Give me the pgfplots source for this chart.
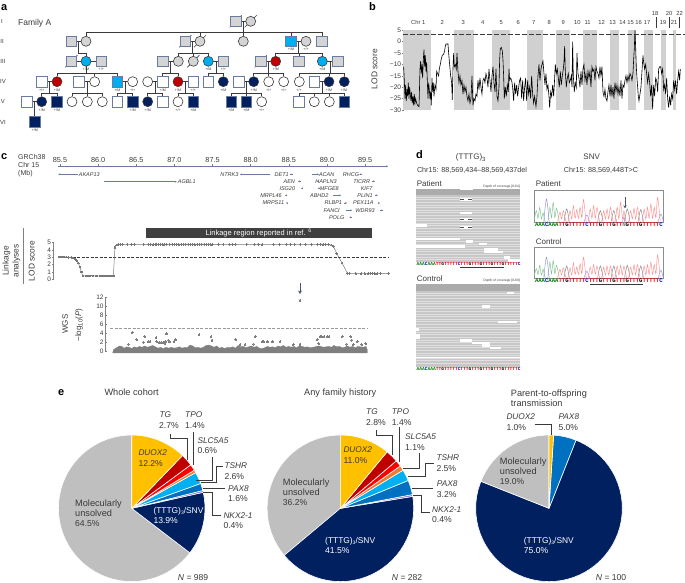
\documentclass[border=0pt]{standalone}
\usepackage{fontspec}
\setmainfont{Liberation Sans}
\newfontfamily\monof{Liberation Mono}
\usepackage{pgfplots}
\pgfplotsset{compat=1.18}
\usepgfplotslibrary{polar}
\usetikzlibrary{arrows.meta}
\definecolor{txt}{HTML}{3A3A3A}
\definecolor{navy}{HTML}{002060}
\definecolor{sky}{HTML}{00AEEF}
\definecolor{red1}{HTML}{C00000}
\definecolor{gry}{HTML}{D4D4D4}
\definecolor{sqb}{HTML}{6A7BA2}
\definecolor{band}{HTML}{D0D0D0}
\definecolor{duox}{HTML}{FFC000}
\definecolor{tg}{HTML}{C00000}
\definecolor{tpo}{HTML}{FF0000}
\definecolor{slc}{HTML}{ED7D31}
\definecolor{tshr}{HTML}{00B0F0}
\definecolor{pax}{HTML}{0070C0}
\definecolor{nkx}{HTML}{8A6FD8}
\definecolor{uns}{HTML}{BFBFBF}
\definecolor{trG}{HTML}{7FC08F}
\definecolor{trB}{HTML}{8F8FEA}
\definecolor{trR}{HTML}{F79090}
\definecolor{trK}{HTML}{808080}
\definecolor{axg}{HTML}{808080}
\definecolor{dotg}{HTML}{7F7F7F}
\definecolor{dashg}{HTML}{999999}
\definecolor{lodg}{HTML}{777777}
\definecolor{boxg}{HTML}{8C8C8C}
\newcommand\Tx[5]{\node[anchor=#3,inner sep=0pt,text=txt,text height={0.72*#4 pt},text depth=0pt,font=\fontsize{#4}{#4}\selectfont] at (axis cs:#1,#2) {#5};}
\newcommand\TxW[5]{\node[anchor=#3,inner sep=0pt,text=white,text height={0.72*#4 pt},text depth=0pt,font=\fontsize{#4}{#4}\selectfont] at (axis cs:#1,#2) {#5};}
\newcommand\Rt[4]{\node[anchor=center,inner sep=0pt,text=txt,rotate=90,font=\fontsize{#3}{#3}\selectfont] at (axis cs:#1,#2) {#4};}
\newcommand\Gn[3]{\Tx{#1}{#2}{center}{5.5}{\textit{#3}}}
\newcommand\Gt[3]{\Tx{#1}{#2}{center}{3.6}{#3}}
\newcommand\Rc[5]{\addplot[fill=#5,draw=none,forget plot] coordinates {(#1,#2)(#3,#2)(#3,#4)(#1,#4)};}
\newcommand\Ln[2][]{\addplot[forget plot,draw=txt,line width=0.6pt,#1] coordinates {#2};}
\newcommand\Sq[2]{\addplot[forget plot,only marks,mark=square*,mark size=5.2pt,mark options={fill=#1,draw=sqb,line width=0.7pt}] coordinates {#2};}
\newcommand\Ci[2]{\addplot[forget plot,only marks,mark=*,mark size=5pt,mark options={fill=#1,draw=txt,line width=0.6pt}] coordinates {#2};}
\newcommand\Wd[2]{\addplot[forget plot,data cs=polar,fill=#1,draw=white,line width=0.6pt] coordinates {#2};}
\newcommand\qA{\textcolor{green!45!black}{A}}
\newcommand\qC{\textcolor{blue!80!black}{C}}
\newcommand\qG{\textcolor{black}{G}}
\newcommand\qT{\textcolor{red!90!black}{T}}
\newcommand\qN{\textcolor{gray}{N}}
\newcommand\seqC{\qA\qA\qA\qC\qA\qA\qA\qT\qT\qG\qT\qT\qT\qT\qT\qC\qT\qT\qT\qG\qT\qT\qT\qG\qT\qT\qT\qG\qT\qT\qT\qG\qT\qT\qT\qT\qT\qC}
\newcommand\seqP{\qA\qA\qA\qC\qA\qA\qA\qT\qT\qG\qT\qT\qT\qT\qT\qC\qT\qT\qT\qG\qT\qT\qT\qG\qT\qT\qN\qG\qT\qT\qT\qG\qT\qT\qT\qT\qT\qC}
\newcommand\subthree{\raisebox{-1pt}{\fontsize{5}{5}\selectfont 3}}
\pgfplotsset{
  pie/.style={hide axis,scale only axis,width=146.6pt,height=146.6pt,xmin=-1,xmax=1,ymin=-1,ymax=1,clip=false},
  chrom/.style={scale only axis,width=129.3pt,xmin=-0.7,xmax=37.7,ymin=0,ymax=95,xtick=\empty,ytick=\empty,clip=true,axis line style={draw=boxg,line width=0.7pt}}
}
\begin{document}
\begin{tikzpicture}[x=1pt,y=1pt]
\path[use as bounding box] (0,0) rectangle (685,583);

% ---------- b
\begin{axis}[at={(403.3pt,473pt)},anchor=south west,scale only axis,width=277pt,height=79.7pt,
  xmin=190,xmax=1021,ymin=-30,ymax=5,clip=false,axis x line=none,axis y line=left,
  y axis line style={draw=none,-},ytick={-30,-25,-20,-15,-10,-5,0,5},
  yticklabels={−30,−25,−20,−15,−10,−5,0,5},
  tick style={draw=axg,line width=0.5pt},major tick length=2pt,
  yticklabel style={font=\fontsize{6.6}{6.6}\selectfont,text=txt,inner sep=1pt}]
\Rc{190}{-30}{272}{5}{band}\Rc{343}{-30}{401}{5}{band}\Rc{457}{-30}{511}{5}{band}
\Rc{560}{-30}{608}{5}{band}\Rc{649}{-30}{691}{5}{band}\Rc{730}{-30}{771}{5}{band}
\Rc{810}{-30}{836}{5}{band}\Rc{864}{-30}{887}{5}{band}\Rc{913}{-30}{938}{5}{band}
\Rc{962}{-30}{978}{5}{band}\Rc{998}{-30}{1008}{5}{band}
\addplot[draw=txt,dashed,dash pattern=on 5pt off 2pt,line width=0.7pt] coordinates {(190,3.3)(1035,3.3)};
\addplot[draw=black,line width=0.6pt] coordinates {
(191,-11)(193,-17)(195,-25)(197,-19)(199,-26)(201,-21)(203,-24)(205,-18)(207,-25)(209,-20)(211,-23)(213,-26)(215,-22)(217,-27)(219,-24)(221,-28)(223,-23)(225,-27)(227,-25)(230,-27)(233,-28)(237,-28.5)(238,-24)(240,-12)(242,-8.5)(244,-14)(246,-10)(248,-16)(250,-8)(252,-3.5)(254,-11)(256,-6)(258,-13)(260,-9)(262,-17)(264,-25)(266,-18)(268,-21)(270,-25)(272,-22)(274,-28)(276,-16)(278,-22)(280,-18)(282,-24)(285,-19)(288,-21)(290,-13)(293,-14)(296,-15)(298,-12)(301,-10)(304,-7.5)(307,-6)(311,-5.5)(314,-4)(316,-2)(318,-1)(324,-1)(326,-5)(329,-10)(332,-15)(335,-18)(337,-25.5)(339,-12)(341,-5)(343,-11)(346,-10)(349,-12)(351,-5)(354,-13)(357,-18)(360,-15)(363,-19)(366,-17)(369,-23)(372,-19)(375,-22)(378,-20)(381,-24)(384,-26)(387,-23)(390,-27)(393,-25)(396,-15)(399,-28)(402,-25)(405,-26)(408,-23)(411,-24)(414,-17)(417,-21)(420,-16)(423,-20)(426,-23)(429,-17)(432,-16)(435,-18)(438,-14)(441,-16)(444,-20)(447,-12)(450,-17)(453,-22)(456,-15)(459,-11)(462,-18)(465,-22)(468,-12)(471,-24)(474,-26)(477,-20)(479,-8)(481,-3)(484,-2.5)(487,-4)(489,-8)(491,-15)(493,-25)(496,-20)(499,-24)(502,-19)(505,-22)(507,-12)(509,-17)(512,-16)(515,-17)(518,-20)(521,-26)(524,-18)(527,-23)(530,-19)(533,-24)(536,-20)(539,-17)(542,-16)(545,-25)(548,-17)(551,-26)(554,-20)(557,-16)(560,-26)(563,-17)(566,-23)(569,-20)(572,-25)(575,-15)(578,-23)(581,-27)(584,-24)(588,-28.5)(591,-24)(594,-15)(597,-10)(600,-17)(603,-12)(606,-10)(609,-8.5)(612,-14)(615,-19)(618,-14)(621,-21)(624,-19)(627,-24)(629,-29)(632,-22)(635,-24)(638,-19)(641,-24)(643,-19)(646,-10)(649,-14)(652,-12)(655,-16)(658,-20)(661,-13)(664,-19)(667,-15)(670,-12)(672,-9)(674,-2)(676,-13)(679,-20)(682,-16)(685,-14)(688,-18)(691,-17)(694,-15)(696,-20)(698,0)(700,-15)(703,-22)(706,-18)(709,-20)(711,-5)(714,-14)(717,-16)(720,-20)(723,-13)(726,-19)(729,-12)(732,-10)(735,-17)(738,-14)(741,-19)(744,-13)(747,-16)(750,-13)(753,-20)(756,-11)(759,-13)(762,-12)(765,-17)(768,-11)(771,-13)(774,-14)(777,-16)(780,-11)(783,-15)(786,-11)(789,-22)(792,-24)(795,-21)(798,-25)(801,-26)(804,-22)(807,-19)(810,-24)(813,-19)(816,-24)(819,-20)(822,-25)(825,-18)(828,-22)(831,-19)(834,-23)(837,-20)(840,-24)(843,-17)(846,-25)(849,-19)(852,-20)(855,-17)(858,-15)(861,-18)(864,-15)(867,-17)(870,-14)(873,-15)(876,-17)(879,-14)(881,-8)(883,-3)(885,5)(887,-2)(889,-11)(891,-16)(893,-20)(895,-24)(897,-26)(900,-23)(903,-20)(906,-13)(909,-6)(911,-9)(914,-12)(917,-10)(920,-14)(923,-18)(926,-14)(929,-18)(932,-24)(935,-19)(938,-29.5)(941,-19)(944,-24)(947,-16)(950,-17)(953,-22)(956,-12)(959,-11)(962,-11)(965,-14)(968,-12)(971,-21)(974,-19)(977,-23)(980,-16)(983,-25)(986,-29)(989,-24)(992,-28)(995,-23)(998,-25)(1001,-17)(1004,-21)(1007,-17)(1010,-23)(1013,-17)(1016,-13)(1019,-17)(1021,-12)};
\end{axis}

% ---------- c top scale
\begin{axis}[at={(58pt,415.7pt)},anchor=south west,scale only axis,width=330pt,height=1pt,
  xmin=85.474,xmax=89.8,ymin=0,ymax=1,axis y line=none,axis x line*=top,
  x axis line style={draw=sqb,line width=0.6pt,-{Stealth[length=2pt,width=2pt]}},
  xtick={85.5,86,86.5,87,87.5,88,88.5,89,89.5},tick style={draw=sqb,line width=0.5pt},
  major tick length=2pt,tick align=outside,
  xticklabel style={font=\fontsize{7.3}{7.3}\selectfont,text=txt,inner sep=1pt,yshift=0.5pt},
  /pgf/number format/.cd,fixed,fixed zerofill,precision=1,assume math mode=true]
\end{axis}

% ---------- c LOD
\begin{axis}[at={(53.3pt,303.7pt)},anchor=south west,scale only axis,width=336.7pt,height=36.7pt,
  xmin=85.412,xmax=89.828,ymin=0,ymax=5,clip=false,axis x line=none,axis y line=left,
  y axis line style={draw=axg,line width=0.5pt,-},ytick={0,1,2,3,4,5},
  tick style={draw=axg,line width=0.5pt},major tick length=2pt,
  yticklabel style={font=\fontsize{6.5}{6.5}\selectfont,text=txt,inner sep=1pt},
  /pgf/number format/assume math mode=true]
\addplot[draw=txt,dash pattern=on 3pt off 1.5pt,line width=0.5pt] coordinates {(85.49,3)(89.82,3)};
\addplot[color=lodg,line width=0.5pt,mark=*,mark size=0.8pt,mark options={fill=lodg,draw=lodg,line width=0pt}] coordinates {
(85.49,3.05)(85.52,3.05)(85.55,3.05)(85.58,3.03)(85.61,3.0)(85.65,2.95)(85.68,2.88)(85.70,2.75)(85.72,2.5)(85.74,2.2)(85.76,1.7)(85.78,1.0)(85.80,0.45)(85.85,0.45)(85.89,0.45)(85.93,0.45)(85.98,0.45)(86.03,0.45)(86.06,0.45)(86.08,0.45)(86.11,0.45)(86.14,0.45)(86.17,0.45)(86.20,0.45)(86.22,4.3)(86.24,4.65)(86.265,4.75)(86.29,4.77)(86.32,4.77)(86.38,4.77)(86.44,4.77)(86.48,4.77)(86.60,4.77)(86.66,4.77)(86.69,4.77)(86.72,4.77)(86.75,4.77)(86.77,4.77)(86.79,4.77)(86.82,4.77)(86.85,4.77)(86.87,4.77)(86.90,4.77)(86.94,4.77)(86.97,4.77)(87.00,4.77)(87.03,4.77)(87.06,4.77)(87.09,4.77)(87.12,4.77)(87.15,4.77)(87.18,4.77)(87.21,4.77)(87.24,4.77)(87.27,4.77)(87.30,4.77)(87.33,4.77)(87.36,4.77)(87.39,4.77)(87.42,4.77)(87.45,4.77)(87.48,4.77)(87.50,4.77)(87.58,4.77)(87.64,4.77)(87.72,4.77)(87.76,4.77)(87.80,4.77)(87.95,4.77)(88.05,4.77)(88.10,4.77)(88.15,4.77)(88.30,4.77)(88.38,4.77)(88.47,4.77)(88.52,4.77)(88.58,4.77)(88.65,4.77)(88.72,4.77)(88.80,4.77)(88.88,4.77)(88.92,4.77)(88.95,4.77)(88.98,4.77)(89.02,4.75)(89.06,4.65)(89.085,4.5)(89.13,3.5)(89.20,2.2)(89.27,0.8)(89.30,0.8)(89.38,0.8)(89.45,0.8)(89.50,0.8)(89.54,0.8)(89.57,0.8)(89.60,0.8)(89.63,0.8)(89.66,0.8)(89.70,0.8)(89.81,0.8)};
\end{axis}

% ---------- c WGS
\begin{axis}[at={(105.7pt,231.7pt)},anchor=south west,scale only axis,width=264.3pt,height=53.6pt,
  xmin=317,xmax=1110,ymin=0,ymax=12,clip=false,axis x line=none,axis y line=left,
  y axis line style={draw=axg,line width=0.5pt,-},ytick={0,2,4,6,8,10,12},
  tick style={draw=axg,line width=0.5pt},major tick length=2pt,
  yticklabel style={font=\fontsize{6.5}{6.5}\selectfont,text=txt,inner sep=1pt},
  /pgf/number format/assume math mode=true]
\addplot[draw=dashg,dash pattern=on 3pt off 1.5pt,line width=0.7pt] coordinates {(330,5.2)(1100,5.2)};
\addplot[fill=dotg,draw=dotg,line width=0.3pt] coordinates {
(338,-0.4)(340,0.3)(345,0.6)(352,0.9)(358,1.2)(365,1.1)(372,0.7)(380,1.0)(388,0.9)(395,0.6)(402,1.0)(410,0.8)(418,1.1)(426,0.9)(434,1.2)(442,0.9)(450,1.1)(458,1.3)(466,1.0)(474,0.7)(482,0.9)(490,0.6)(498,0.9)(506,0.7)(514,0.9)(522,0.7)(530,0.8)(538,1.0)(546,0.7)(554,0.9)(562,0.8)(570,1.4)(578,1.2)(586,0.8)(594,0.9)(602,0.7)(610,0.9)(618,1.3)(626,1.4)(634,1.2)(642,0.9)(650,1.2)(658,0.7)(666,0.9)(674,0.6)(682,0.9)(690,0.8)(698,1.0)(706,0.7)(714,1.3)(722,1.0)(730,1.1)(738,0.8)(746,1.0)(754,1.2)(762,0.9)(770,1.1)(778,0.7)(786,0.6)(794,0.8)(802,1.1)(810,0.9)(818,1.0)(826,0.8)(834,1.2)(842,1.0)(850,1.3)(858,0.9)(866,1.1)(874,0.9)(882,1.1)(890,0.8)(898,1.2)(906,1.1)(914,0.9)(922,1.0)(930,0.8)(938,0.9)(946,1.0)(954,1.2)(962,1.1)(970,0.9)(978,1.0)(986,1.1)(994,0.9)(1002,1.3)(1010,1.0)(1018,1.1)(1026,0.8)(1034,0.9)(1042,1.2)(1050,0.9)(1058,1.1)(1066,0.8)(1074,1.1)(1082,1.0)(1090,0.9)(1098,1.1)(1102,0.3)(1102,-0.4)};
\addplot[color=dotg,only marks,mark=*,mark size=0.95pt,mark options={fill=dotg,draw=dotg,line width=0pt}] coordinates {
(900,11.4)(397,4.2)(385,1.6)(410,2.6)(434,3.3)(430,2)(445,2.1)(450,2.1)(468,3)(470,2.2)(478,1.9)(485,1.9)(490,2)(497,2.2)(505,2.5)(500,3.9)(495,1.8)(509,2.1)(522,2.2)(527,2.6)(597,3.7)(633,3.3)(636,2.5)(707,2.6)(766,3.3)(787,2.1)(790,2.1)(803,2.1)(817,2.1)(840,2.1)(720,1.5)(735,1.5)(760,1.6)(952,2.6)(960,3.3)(965,3.3)(972,3.3)(982,3.3)(987,3.3)(1027,3.3)(1052,3.3)(1055,2.5)(1072,2.2)(956,1.7)(1040,1.6)(1060,1.5)(1085,1.5)(1097,1.7)(900,1.6)(880,1.5)};
\end{axis}

% ---------- d chromatograms
\begin{axis}[chrom,at={(534pt,360.7pt)},anchor=south west,height=31.6pt]
\addplot[draw=trG,line width=0.45pt,smooth] coordinates {(-0.7,5)(0,35)(0.5,12)(1,45)(1.5,10)(2,28)(2.6,2)(3.4,2)(4,45)(4.5,14)(5,60)(5.5,14)(6,42)(6.8,2)};
\addplot[draw=trB,line width=0.45pt,smooth] coordinates {(2.2,2)(3,70)(3.8,2)};
\addplot[draw=trB,line width=0.45pt,smooth] coordinates {(14.2,2)(15,22)(15.8,2)};
\addplot[draw=trB,line width=0.45pt,smooth] coordinates {(25.6,2)(26,15)(26.4,2)};
\addplot[draw=trB,line width=0.45pt,smooth] coordinates {(36.2,2)(37,25)(37.7,2)};
\addplot[draw=trK,line width=0.45pt,smooth] coordinates {(8.2,2)(9,40)(9.8,2)};
\addplot[draw=trK,line width=0.45pt,smooth] coordinates {(18.2,2)(19,35)(19.8,2)};
\addplot[draw=trK,line width=0.45pt,smooth] coordinates {(22.2,2)(23,35)(23.8,2)};
\addplot[draw=trK,line width=0.45pt,smooth] coordinates {(26.2,2)(27,40)(27.8,2)};
\addplot[draw=trK,line width=0.45pt,smooth] coordinates {(30.2,2)(31,38)(31.8,2)};
\addplot[draw=trR,line width=0.45pt,smooth] coordinates {(6.3,2)(7,30)(7.5,10)(8,35)(8.8,2)(9.4,2)(10,35)(10.5,10)(11,50)(11.5,12)(12,38)(12.5,12)(13,45)(13.5,14)(14,68)(14.8,2)(15.4,2)(16,40)(16.5,12)(17,50)(17.5,12)(18,45)(18.8,2)(19.4,2)(20,35)(20.5,10)(21,40)(21.5,10)(22,45)(22.8,2)(23.4,2)(24,45)(24.5,10)(25,60)(25.6,10)(26,35)(26.6,2)(27.4,2)(28,35)(28.5,10)(29,42)(29.5,10)(30,45)(30.8,2)(31.4,2)(32,40)(32.5,10)(33,45)(33.5,12)(34,55)(34.5,12)(35,45)(35.5,14)(36,75)(36.8,2)};
\end{axis}
\begin{axis}[chrom,at={(534pt,304.7pt)},anchor=south west,height=30.7pt]
\addplot[draw=trG,line width=0.45pt,smooth] coordinates {(-0.7,5)(0,30)(0.5,12)(1,40)(1.5,10)(2,28)(2.6,2)(3.4,2)(4,50)(4.5,14)(5,55)(5.5,14)(6,40)(6.8,2)};
\addplot[draw=trB,line width=0.45pt,smooth] coordinates {(2.2,2)(3,65)(3.8,2)};
\addplot[draw=trB,line width=0.45pt,smooth] coordinates {(14.2,2)(15,22)(15.8,2)};
\addplot[draw=trB,line width=0.45pt,smooth] coordinates {(36.2,2)(37,25)(37.7,2)};
\addplot[draw=trK,line width=0.45pt,smooth] coordinates {(8.2,2)(9,38)(9.8,2)};
\addplot[draw=trK,line width=0.45pt,smooth] coordinates {(18.2,2)(19,38)(19.8,2)};
\addplot[draw=trK,line width=0.45pt,smooth] coordinates {(22.2,2)(23,38)(23.8,2)};
\addplot[draw=trK,line width=0.45pt,smooth] coordinates {(26.2,2)(27,40)(27.8,2)};
\addplot[draw=trK,line width=0.45pt,smooth] coordinates {(30.2,2)(31,38)(31.8,2)};
\addplot[draw=trR,line width=0.45pt,smooth] coordinates {(6.3,2)(7,28)(7.5,10)(8,32)(8.8,2)(9.4,2)(10,32)(10.5,10)(11,48)(11.5,12)(12,35)(12.5,12)(13,45)(13.5,14)(14,65)(14.8,2)(15.4,2)(16,35)(16.5,12)(17,42)(17.5,12)(18,38)(18.8,2)(19.4,2)(20,35)(20.5,10)(21,38)(21.5,10)(22,38)(22.8,2)(23.4,2)(24,38)(24.5,10)(25,40)(25.5,10)(26,38)(26.8,2)(27.4,2)(28,35)(28.5,10)(29,42)(29.5,10)(30,42)(30.8,2)(31.4,2)(32,38)(32.5,10)(33,42)(33.5,12)(34,50)(34.5,12)(35,42)(35.5,14)(36,72)(36.8,2)};
\end{axis}

% ---------- e pies
\begin{axis}[pie,at={(58.4pt,1.4pt)},anchor=south west]
\Wd{uns}{(-37.44,0)(-37.44,1)(-40,1)(-45,1)(-50,1)(-55,1)(-60,1)(-65,1)(-70,1)(-75,1)(-80,1)(-85,1)(-90,1)(-95,1)(-100,1)(-105,1)(-110,1)(-115,1)(-120,1)(-125,1)(-130,1)(-135,1)(-140,1)(-145,1)(-150,1)(-155,1)(-160,1)(-165,1)(-170,1)(-175,1)(-180,1)(-185,1)(-190,1)(-195,1)(-200,1)(-205,1)(-210,1)(-215,1)(-220,1)(-225,1)(-230,1)(-235,1)(-240,1)(-245,1)(-250,1)(-255,1)(-260,1)(-265,1)(-270,1)(-270,0)(-37.44,0)}
\Wd{navy}{(12.6,0)(12.6,1)(8,1)(3,1)(-2,1)(-7,1)(-12,1)(-17,1)(-22,1)(-27,1)(-32,1)(-37.44,1)(-37.44,0)(12.6,0)}
\Wd{nkx}{(14.04,0)(14.04,1)(12.6,1)(12.6,0)(14.04,0)}
\Wd{pax}{(19.8,0)(19.8,1)(17,1)(14.04,1)(14.04,0)(19.8,0)}
\Wd{tshr}{(29.16,0)(29.16,1)(25,1)(19.8,1)(19.8,0)(29.16,0)}
\Wd{slc}{(31.32,0)(31.32,1)(29.16,1)(29.16,0)(31.32,0)}
\Wd{tpo}{(36.36,0)(36.36,1)(34,1)(31.32,1)(31.32,0)(36.36,0)}
\Wd{tg}{(46.08,0)(46.08,1)(41,1)(36.36,1)(36.36,0)(46.08,0)}
\Wd{duox}{(90,0)(90,1)(85,1)(80,1)(75,1)(70,1)(65,1)(60,1)(55,1)(50,1)(46.08,1)(46.08,0)(90,0)}
\end{axis}
\begin{axis}[pie,at={(267.1pt,1.4pt)},anchor=south west]
\Wd{uns}{(-140.04,0)(-140.04,1)(-145,1)(-150,1)(-155,1)(-160,1)(-165,1)(-170,1)(-175,1)(-180,1)(-185,1)(-190,1)(-195,1)(-200,1)(-205,1)(-210,1)(-215,1)(-220,1)(-225,1)(-230,1)(-235,1)(-240,1)(-245,1)(-250,1)(-255,1)(-260,1)(-265,1)(-270,1)(-270,0)(-140.04,0)}
\Wd{navy}{(9.36,0)(9.36,1)(5,1)(0,1)(-5,1)(-10,1)(-15,1)(-20,1)(-25,1)(-30,1)(-35,1)(-40,1)(-45,1)(-50,1)(-55,1)(-60,1)(-65,1)(-70,1)(-75,1)(-80,1)(-85,1)(-90,1)(-95,1)(-100,1)(-105,1)(-110,1)(-115,1)(-120,1)(-125,1)(-130,1)(-135,1)(-140.04,1)(-140.04,0)(9.36,0)}
\Wd{nkx}{(10.8,0)(10.8,1)(9.36,1)(9.36,0)(10.8,0)}
\Wd{pax}{(22.32,0)(22.32,1)(18,1)(14,1)(10.8,1)(10.8,0)(22.32,0)}
\Wd{tshr}{(31.32,0)(31.32,1)(27,1)(22.32,1)(22.32,0)(31.32,0)}
\Wd{slc}{(35.28,0)(35.28,1)(33,1)(31.32,1)(31.32,0)(35.28,0)}
\Wd{tpo}{(40.32,0)(40.32,1)(38,1)(35.28,1)(35.28,0)(40.32,0)}
\Wd{tg}{(50.4,0)(50.4,1)(45,1)(40.32,1)(40.32,0)(50.4,0)}
\Wd{duox}{(90,0)(90,1)(85,1)(80,1)(75,1)(70,1)(65,1)(60,1)(55,1)(50.4,1)(50.4,0)(90,0)}
\end{axis}
\begin{axis}[pie,at={(475.7pt,1.4pt)},anchor=south west]
\Wd{navy}{(68.4,0)(68.4,1)(65,1)(60,1)(55,1)(50,1)(45,1)(40,1)(35,1)(30,1)(25,1)(20,1)(15,1)(10,1)(5,1)(0,1)(-5,1)(-10,1)(-15,1)(-20,1)(-25,1)(-30,1)(-35,1)(-40,1)(-45,1)(-50,1)(-55,1)(-60,1)(-65,1)(-70,1)(-75,1)(-80,1)(-85,1)(-90,1)(-95,1)(-100,1)(-105,1)(-110,1)(-115,1)(-120,1)(-125,1)(-130,1)(-135,1)(-140,1)(-145,1)(-150,1)(-155,1)(-160,1)(-165,1)(-170,1)(-175,1)(-180,1)(-185,1)(-190,1)(-195,1)(-201.6,1)(-201.6,0)(68.4,0)}
\Wd{uns}{(-201.6,0)(-201.6,1)(-205,1)(-210,1)(-215,1)(-220,1)(-225,1)(-230,1)(-235,1)(-240,1)(-245,1)(-250,1)(-255,1)(-260,1)(-265,1)(-270,1)(-270,0)(-201.6,0)}
\Wd{pax}{(86.4,0)(86.4,1)(82,1)(78,1)(73,1)(68.4,1)(68.4,0)(86.4,0)}
\Wd{duox}{(90,0)(90,1)(88,1)(86.4,1)(86.4,0)(90,0)}
\end{axis}

% ---------- pixel-coordinate layer
\begin{axis}[at={(0pt,0pt)},anchor=south west,scale only axis,width=685pt,height=583pt,
  xmin=0,xmax=685,ymin=0,ymax=583,y dir=reverse,hide axis,clip=false,unbounded coords=jump]
% panel letters
\Tx{1}{7}{west}{11}{\textbf{\textcolor{black}{a}}}
\Tx{369}{7}{west}{11}{\textbf{\textcolor{black}{b}}}
\Tx{1}{156}{west}{11}{\textbf{\textcolor{black}{c}}}
\Tx{416}{155}{west}{11}{\textbf{\textcolor{black}{d}}}
\Tx{58}{391.7}{west}{11}{\textbf{\textcolor{black}{e}}}
\Tx{18}{22}{west}{8.5}{Family A}
\Tx{2}{21}{center}{6}{I}\Tx{2}{41}{center}{6}{II}\Tx{3}{61}{center}{6}{III}\Tx{3}{81.5}{center}{6}{IV}\Tx{3}{101.5}{center}{6}{V}\Tx{3}{122}{center}{6}{VI}
% pedigree lines
\Ln{(240,21.3)(246,21.3)(246,nan)(243.3,21.3)(243.3,32.7)(243.3,nan)(86,36)(86,32.7)(322,32.7)(322,36)(322,nan)(200,32.7)(200,36)(200,nan)(243.3,32.7)(243.3,36)(243.3,nan)(291,32.7)(291,36)(291,nan)
(71.3,41.3)(86,41.3)(86,nan)(185.3,41.3)(200,41.3)(200,nan)(291,41.3)(306,41.3)(306,nan)
(78.7,41.3)(78.7,53.3)(86,53.3)(86,56)(86,nan)(192.7,41.3)(192.7,53.3)(192.7,nan)(178.3,56)(178.3,53.3)(208.3,53.3)(208.3,56)(208.3,nan)(193.3,53.3)(193.3,56)(193.3,nan)
(298.5,41.3)(298.5,53.3)(298.5,nan)(275.7,56)(275.7,53.3)(322.3,53.3)(322.3,56)(322.3,nan)(299,53.3)(299,56)(299,nan)
(71.3,61.3)(101.3,61.3)(101.3,nan)(162.7,61.3)(178.3,61.3)(178.3,nan)(208.3,61.3)(223.3,61.3)(223.3,nan)(260.7,61.3)(275.7,61.3)(275.7,nan)(322.3,61.3)(337.7,61.3)(337.7,nan)
(86,61.3)(86,73.3)(86,nan)(57,76)(57,73.3)(117.3,73.3)(117.3,76)(117.3,nan)(94.7,73.3)(94.7,76)(94.7,nan)
(170.5,61.3)(170.5,73.3)(170.5,nan)(162.7,76)(162.7,73.3)(178,73.3)(178,76)(178,nan)
(215.8,61.3)(215.8,73.3)(215.8,nan)(208.3,76)(208.3,73.3)(223.3,73.3)(223.3,76)(223.3,nan)
(268,61.3)(268,73.3)(268,nan)(253.7,76)(253.7,73.3)(283.7,73.3)(283.7,76)(283.7,nan)(268.7,73.3)(268.7,76)(268.7,nan)
(330,61.3)(330,73.3)(330,nan)(299.3,76)(299.3,73.3)(344.3,73.3)(344.3,76)(344.3,nan)(329,73.3)(329,76)(329,nan)
(41.7,81.7)(57,81.7)(57,nan)(79,81.7)(94.7,81.7)(94.7,nan)(117.3,81.7)(132.7,81.7)(132.7,nan)(147.7,81.7)(162.7,81.7)(162.7,nan)(178,81.7)(193.3,81.7)(193.3,nan)(238.7,81.7)(253.7,81.7)(253.7,nan)(314.3,81.7)(329,81.7)(329,nan)
(49.3,81.7)(49.3,93.3)(49.3,nan)(41.7,96)(41.7,93.3)(57,93.3)(57,96)(57,nan)
(87,81.7)(87,93.3)(87,nan)(72,96)(72,93.3)(102.3,93.3)(102.3,96)(102.3,nan)(87.3,93.3)(87.3,96)(87.3,nan)
(125,81.7)(125,93.3)(125,nan)(117.3,96)(117.3,93.3)(132.7,93.3)(132.7,96)(132.7,nan)
(155,81.7)(155,93.3)(155,nan)(147.7,96)(147.7,93.3)(162.7,93.3)(162.7,96)(162.7,nan)
(185.7,81.7)(185.7,93.3)(185.7,nan)(178,96)(178,93.3)(193.3,93.3)(193.3,96)(193.3,nan)
(246.2,81.7)(246.2,93.3)(246.2,nan)(231.3,96)(231.3,93.3)(261.7,93.3)(261.7,96)(261.7,nan)(246.3,93.3)(246.3,96)(246.3,nan)
(321.8,81.7)(321.8,93.3)(321.8,nan)(299,96)(299,93.3)(344.3,93.3)(344.3,96)(344.3,nan)(314.3,93.3)(314.3,96)(314.3,nan)(329.3,93.3)(329.3,96)(329.3,nan)
(26.7,101.7)(41.7,101.7)(41.7,nan)(34.2,101.7)(34.2,117)}
% pedigree symbols
\Sq{gry}{(235.7,21.3)(71.3,41.3)(185.3,41.3)(322,41.3)(71.3,61.3)(101.3,61.3)(162.7,61.3)(223.3,61.3)(260.7,61.3)(299,61.3)(337.7,61.3)}
\Sq{sky}{(291,41.3)(117.3,81.7)}
\Sq{white}{(41.7,81.7)(79,81.7)(162.7,81.7)(193.3,81.7)(208.3,81.7)(238.7,81.7)(314.3,81.7)(26.7,101.7)(117.3,101.7)(162.7,101.7)(299,101.7)}
\Sq{navy}{(57,101.7)(132.7,101.7)(193.3,101.7)(231.3,101.7)(246.3,101.7)(344.3,101.7)(34.7,122)}
\Ci{gry}{(250.7,21.3)(86,41.3)(200,41.3)(243.3,41.3)(306,41.3)(178.3,61.3)(193.3,61.3)}
\Ci{sky}{(86,61.3)(208.3,61.3)(322.3,61.3)}
\Ci{red1}{(275.7,61.3)(57,81.7)(178,81.7)}
\Ci{white}{(94.7,81.7)(132.7,81.7)(147.7,81.7)(268.7,81.7)(283.7,81.7)(299.3,81.7)(72,101.7)(87.3,101.7)(102.3,101.7)(178,101.7)(261.7,101.7)(314.3,101.7)(329.3,101.7)}
\Ci{navy}{(223.3,81.7)(253.7,81.7)(329,81.7)(344.3,81.7)(41.7,101.7)(147.7,101.7)}
% slashes
\Ln{(229.7,27.3)(241.7,15.3)(241.7,nan)(244.7,27.3)(256.7,15.3)(256.7,nan)(179.3,47.3)(191.3,35.3)(191.3,nan)(194,47.3)(206,35.3)(206,nan)(65.3,67.3)(77.3,55.3)(77.3,nan)(187.3,67.3)(199.3,55.3)(199.3,nan)(254.7,67.3)(266.7,55.3)}
% genotypes
\Gt{291}{49.5}{+/M}\Gt{306}{49.5}{+/+}\Gt{86}{69.7}{+/M}\Gt{101.3}{69.7}{+/+}\Gt{208.3}{69.7}{+/M}\Gt{223.3}{69.7}{+/+}\Gt{275.7}{69.7}{+/M}\Gt{322.3}{69.7}{+/M}
\Gt{41.7}{90}{+/+}\Gt{57}{90}{+/M}\Gt{117.3}{90}{+/M}\Gt{132.7}{90}{+/+}\Gt{162.7}{90}{+/M}\Gt{178}{90}{+/M}\Gt{193.3}{90}{+/+}\Gt{223.3}{90}{+/M}\Gt{253.7}{90}{+/M}\Gt{268.7}{90}{+/+}\Gt{283.7}{90}{+/+}\Gt{299}{90}{+/+}\Gt{329}{90}{+/M}\Gt{344}{90}{+/M}
\Gt{41.7}{110}{+/M}\Gt{57}{110}{+/M}\Gt{132.7}{110}{+/M}\Gt{147.7}{110}{+/M}\Gt{178}{110}{+/+}\Gt{193.3}{110}{+/M}\Gt{231.3}{110}{+/M}\Gt{246.3}{110}{+/M}\Gt{261.7}{110}{+/+}\Gt{34.7}{130}{+/M}
% b texts
\Tx{418.3}{22}{center}{5.8}{Chr 1}\Tx{442.3}{22}{center}{5.8}{2}\Tx{463.3}{22}{center}{5.8}{3}\Tx{482.7}{22}{center}{5.8}{4}\Tx{501.3}{22}{center}{5.8}{5}\Tx{518.3}{22}{center}{5.8}{6}\Tx{533.7}{22}{center}{5.8}{7}\Tx{549.3}{22}{center}{5.8}{8}\Tx{563.3}{22}{center}{5.8}{9}\Tx{577.3}{22}{center}{5.8}{10}\Tx{587.7}{22}{center}{5.8}{11}\Tx{601.7}{22}{center}{5.8}{12}\Tx{612.7}{22}{center}{5.8}{13}\Tx{622.7}{22}{center}{5.8}{14}\Tx{630.7}{22}{center}{5.8}{15}\Tx{638.7}{22}{center}{5.8}{16}\Tx{647}{22}{center}{5.8}{17}\Tx{655}{13.7}{center}{5.8}{18}\Tx{663}{22}{center}{5.8}{19}\Tx{669}{13.7}{center}{5.8}{20}\Tx{674}{22}{center}{5.8}{21}\Tx{679.7}{13.7}{center}{5.8}{22}
\Ln{(656.3,17.3)(656.3,28.3)(656.3,nan)(669,17.3)(669,28.3)(669,nan)(679,17.3)(679,28.3)}
\Rt{374.5}{69}{8.4}{LOD score}
% c texts
\Tx{18}{156.7}{west}{7}{GRCh38}\Tx{18}{165}{west}{7}{Chr 15}\Tx{18}{173.3}{west}{7}{(Mb)}
\Gn{89.3}{174.3}{AKAP13}\Gn{186.7}{181.7}{AGBL1}\Gn{229.3}{174.3}{NTRK3}\Gn{281.7}{174.3}{DET1}\Gn{289.3}{181.3}{AEN}\Gn{287.3}{188.3}{ISG20}\Gn{271}{195.3}{MRPL46}\Gn{273.3}{203}{MRPS11}
\Gn{326.7}{174.3}{ACAN}\Gn{326}{181.3}{HAPLN3}\Gn{329.3}{188.3}{MFGE8}\Gn{319.3}{195.3}{ABHD2}\Gn{333.3}{203}{RLBP1}\Gn{331.7}{210.3}{FANCI}\Gn{336.7}{217.3}{POLG}
\Gn{351}{174.3}{RHCG}\Gn{361.7}{181.3}{TICRR}\Gn{366.7}{188.3}{KIF7}\Gn{365}{195.3}{PLIN1}\Gn{363.3}{203}{PEX11A}\Gn{365}{210.3}{WDR93}
\addplot[forget plot,draw=sqb,line width=0.5pt,-{Stealth[length=1.8pt,width=1.8pt]}] coordinates {(78.3,174.3)(58.3,174.3)};
\addplot[forget plot,draw=sqb,line width=0.5pt,-{Stealth[length=1.8pt,width=1.8pt]}] coordinates {(104,181.7)(176.7,181.7)};
\addplot[forget plot,draw=sqb,line width=0.5pt,-{Stealth[length=1.8pt,width=1.8pt]}] coordinates {(270,174.3)(240,174.3)};
\addplot[forget plot,draw=sqb,line width=0.5pt,-{Stealth[length=1.8pt,width=1.8pt]}] coordinates {(312.3,174.3)(319,174.3)};
\addplot[forget plot,draw=sqb,line width=0.5pt,-{Stealth[length=1.8pt,width=1.8pt]}] coordinates {(333.3,195.3)(341,195.3)};
\addplot[forget plot,draw=sqb,line width=0.5pt,-{Stealth[length=1.8pt,width=1.8pt]}] coordinates {(345.7,210.3)(352,210.3)};
\addplot[forget plot,draw=sqb,line width=0.5pt,-{Stealth[length=1.8pt,width=1.8pt]}] coordinates {(292.7,174.3)(289.7,174.3)};
\addplot[forget plot,draw=sqb,line width=0.5pt,-{Stealth[length=1.8pt,width=1.8pt]}] coordinates {(301,181.3)(298,181.3)};
\addplot[forget plot,draw=sqb,line width=0.5pt,-{Stealth[length=1.8pt,width=1.8pt]}] coordinates {(303.3,188.3)(301,188.3)};
\addplot[forget plot,draw=sqb,line width=0.5pt,-{Stealth[length=1.8pt,width=1.8pt]}] coordinates {(287.3,195.3)(285,195.3)};
\addplot[forget plot,draw=sqb,line width=0.5pt,-{Stealth[length=1.8pt,width=1.8pt]}] coordinates {(288.3,203)(286,203)};
\addplot[forget plot,draw=sqb,line width=0.5pt,-{Stealth[length=1.8pt,width=1.8pt]}] coordinates {(319,181.3)(316.7,181.3)};
\addplot[forget plot,draw=sqb,line width=0.5pt,-{Stealth[length=1.8pt,width=1.8pt]}] coordinates {(320,188.3)(317.7,188.3)};
\addplot[forget plot,draw=sqb,line width=0.5pt,-{Stealth[length=1.8pt,width=1.8pt]}] coordinates {(344.3,203)(347,203)};
\addplot[forget plot,draw=sqb,line width=0.5pt,-{Stealth[length=1.8pt,width=1.8pt]}] coordinates {(352,217.3)(349.3,217.3)};
\addplot[forget plot,draw=sqb,line width=0.5pt,-{Stealth[length=1.8pt,width=1.8pt]}] coordinates {(362,174.3)(359.3,174.3)};
\addplot[forget plot,draw=sqb,line width=0.5pt,-{Stealth[length=1.8pt,width=1.8pt]}] coordinates {(371.7,181.3)(375,181.3)};
\addplot[forget plot,draw=sqb,line width=0.5pt,-{Stealth[length=1.8pt,width=1.8pt]}] coordinates {(375,195.3)(377.7,195.3)};
\addplot[forget plot,draw=sqb,line width=0.5pt,-{Stealth[length=1.8pt,width=1.8pt]}] coordinates {(377.7,203)(380,203)};
\addplot[forget plot,draw=sqb,line width=0.5pt,-{Stealth[length=1.8pt,width=1.8pt]}] coordinates {(380,210.3)(383.3,210.3)};
\Rc{145.7}{228.3}{371.7}{238}{black!75}
\TxW{258.7}{233.2}{center}{7.5}{Linkage region reported in ref. \textsuperscript{6}}
\Rt{6.5}{261}{8.4}{Linkage}\Rt{16.5}{261}{8.4}{analyses}\Rt{31.7}{261}{8.4}{LOD score}
\Ln[draw=axg]{(23.3,228)(23.3,284)}
\Rt{65}{324}{8}{WGS}\Rt{79}{325}{8}{−log\textsubscript{10}(\textit{P})}
\addplot[forget plot,draw=sqb!70!black,line width=1pt,-{Stealth[length=3.5pt,width=4pt]}] coordinates {(300,283)(300,294)};
% d
\Tx{471}{156.7}{center}{8}{(TTTG)\textsubscript{3}}\Tx{591.7}{156.7}{center}{8}{SNV}
\Tx{472}{170.3}{center}{7.2}{Chr15: 88,569,434–88,569,437del}\Tx{601}{170.3}{center}{7.2}{Chr15: 88,569,448T>C}
\Tx{416.7}{183.7}{west}{8}{Patient}\Tx{520}{186}{east}{3.3}{Depth of coverage [0-64]}
\Tx{416.7}{278.3}{west}{8}{Control}\Tx{520}{280}{east}{3.3}{Depth of coverage [0-69]}
\Tx{535.7}{183.7}{west}{8}{Patient}\Tx{535.7}{241.7}{west}{8}{Control}
% pile-ups
\Rc{416}{189.3}{520}{261.7}{black!22}\Rc{416}{189.3}{520}{195}{black!33}
\Rc{416}{284}{520}{366.7}{black!22}\Rc{416}{284}{520}{291}{black!33}
\addplot[forget plot,draw=white,opacity=0.45,line width=0.3pt] coordinates {(416,197)(520,197)(520,nan)(416,199.6)(520,199.6)(520,nan)(416,202.2)(520,202.2)(520,nan)(416,204.8)(520,204.8)(520,nan)(416,207.4)(520,207.4)(520,nan)(416,210)(520,210)(520,nan)(416,212.6)(520,212.6)(520,nan)(416,215.2)(520,215.2)(520,nan)(416,217.8)(520,217.8)(520,nan)(416,220.4)(520,220.4)(520,nan)(416,223)(520,223)(520,nan)(416,225.6)(520,225.6)(520,nan)(416,228.2)(520,228.2)(520,nan)(416,230.8)(520,230.8)(520,nan)(416,233.4)(520,233.4)(520,nan)(416,236)(520,236)(520,nan)(416,238.6)(520,238.6)(520,nan)(416,241.2)(520,241.2)(520,nan)(416,243.8)(520,243.8)(520,nan)(416,246.4)(520,246.4)(520,nan)(416,249)(520,249)(520,nan)(416,251.6)(520,251.6)(520,nan)(416,254.2)(520,254.2)(520,nan)(416,256.8)(520,256.8)(520,nan)(416,259.4)(520,259.4)};
\addplot[forget plot,draw=white,opacity=0.45,line width=0.3pt] coordinates {(416,293)(520,293)(520,nan)(416,295.6)(520,295.6)(520,nan)(416,298.2)(520,298.2)(520,nan)(416,300.8)(520,300.8)(520,nan)(416,303.4)(520,303.4)(520,nan)(416,306)(520,306)(520,nan)(416,308.6)(520,308.6)(520,nan)(416,311.2)(520,311.2)(520,nan)(416,313.8)(520,313.8)(520,nan)(416,316.4)(520,316.4)(520,nan)(416,319)(520,319)(520,nan)(416,321.6)(520,321.6)(520,nan)(416,324.2)(520,324.2)(520,nan)(416,326.8)(520,326.8)(520,nan)(416,329.4)(520,329.4)(520,nan)(416,332)(520,332)(520,nan)(416,334.6)(520,334.6)(520,nan)(416,337.2)(520,337.2)(520,nan)(416,339.8)(520,339.8)(520,nan)(416,342.4)(520,342.4)(520,nan)(416,345)(520,345)(520,nan)(416,347.6)(520,347.6)(520,nan)(416,350.2)(520,350.2)(520,nan)(416,352.8)(520,352.8)(520,nan)(416,355.4)(520,355.4)(520,nan)(416,358)(520,358)(520,nan)(416,360.6)(520,360.6)(520,nan)(416,363.2)(520,363.2)};
% patient gaps
\Rc{460}{188}{473}{190}{white}\Rc{460}{198}{472}{201}{white}\Rc{460}{211.7}{472}{214.3}{white}\Rc{460}{217.7}{472}{221}{white}\Rc{460}{226}{472}{229.3}{white}
\Ln[draw=black!70,line width=0.4pt]{(460,199.6)(464,199.6)(464,nan)(468,199.6)(472,199.6)(472,nan)(460,219.4)(464,219.4)(464,nan)(468,219.4)(472,219.4)(472,nan)(460,227.6)(464,227.6)(464,nan)(468,227.6)(472,227.6)}
\Rc{416}{224.3}{426.7}{226.7}{white}\Rc{416}{237.7}{460}{240}{white}\Rc{466}{240.3}{473.3}{242.7}{white}\Rc{479}{242.7}{486.7}{245}{white}\Rc{416}{245.3}{465}{247.7}{white}\Rc{484.3}{248.3}{498.3}{253.3}{white}\Rc{498.3}{250.7}{503.3}{253.3}{white}\Rc{504}{256}{510}{259.3}{white}\Rc{508.3}{259.3}{520}{261.7}{white}
\Rc{506.7}{291.7}{514}{294}{white}\Rc{482.3}{305}{490}{307.7}{white}\Rc{498.3}{320.7}{516.7}{323.3}{white}\Rc{416}{328.3}{419.3}{330.7}{white}\Rc{416}{334}{420}{339}{white}\Rc{460}{339}{471.7}{341.7}{white}\Rc{471.7}{341.7}{490}{344}{white}\Rc{481.7}{344}{490}{346.7}{white}\Rc{490}{346.7}{500.7}{349}{white}\Rc{416}{356.7}{520}{357.7}{white}
\Tx{416.5}{264.3}{west}{4.56}{\monof\bfseries\seqC}
\Tx{416.5}{369}{west}{4.56}{\monof\bfseries\seqC}
\Ln{(460,267.3)(504,267.3)}
\Tx{534.8}{224.3}{west}{5.6}{\monof\bfseries\seqP}
\Tx{534.8}{280.7}{west}{5.6}{\monof\bfseries\seqC}
\Ln{(590,284.3)(643.3,284.3)}
\addplot[forget plot,draw=sqb!70!black,line width=0.9pt,-{Stealth[length=3pt,width=3.5pt]}] coordinates {(625,197)(625,208.3)};
% e leaders
\Ln{(170,433.7)(170,438.3)(187.7,438.3)(187.7,460.3)(187.7,nan)(193.7,431.7)(193.7,465)(193.7,nan)(212,456.7)(212,480.7)(196,480.7)(196,nan)(222.7,466.3)(216,466.3)(216,482.3)(200.7,482.3)(200.7,nan)(225,488.3)(202.7,488.3)(202.7,nan)(221.3,515.7)(212.3,515.7)(212.3,492.3)(203.3,492.3)}
\Ln{(376,430)(376,435)(392.7,435)(392.7,455)(392.7,nan)(399.3,426.7)(399.3,462.3)(399.3,nan)(419,453.3)(419,468.3)(403.3,468.3)(403.3,nan)(434,463.7)(425.3,463.7)(425.3,476)(408.3,476)(408.3,nan)(433.3,488.3)(412.3,488.3)(412.3,nan)(430,512.7)(421.7,512.7)(421.7,495.7)(412.7,495.7)}
\Ln{(535,424.3)(551.3,424.3)(551.3,435)}
% e texts
\def\fs{9.2}\def\fc{8.3}\def\fp{8.6}\def\ft{8.4}
\Tx{104.3}{392.3}{west}{\fs}{Whole cohort}
\Tx{304}{392.3}{west}{\fs}{Any family history}
\Tx{510.7}{392.7}{west}{\fs}{Parent-to-offspring}\Tx{510.7}{402.7}{west}{\fs}{transmission}
\Tx{159.3}{415}{west}{\fc}{\textit{TG}}\Tx{159}{425.7}{west}{\fp}{2.7\%}\Tx{185}{415}{west}{\fc}{\textit{TPO}}\Tx{185}{425.7}{west}{\fp}{1.4\%}
\Tx{197.3}{440.3}{west}{\fc}{\textit{SLC5A5}}\Tx{197.3}{450.7}{west}{\fp}{0.6\%}\Tx{224.3}{466}{west}{\fc}{\textit{TSHR}}\Tx{224.3}{476}{west}{\fp}{2.6\%}
\Tx{228}{488.3}{west}{\fc}{\textit{PAX8}}\Tx{228}{498.7}{west}{\fp}{1.6\%}\Tx{223.3}{515.3}{west}{\fc}{\textit{NKX2-1}}\Tx{223.3}{525.3}{west}{\fp}{0.4\%}
\Tx{138.3}{452.7}{west}{\fc}{\textit{DUOX2}}\Tx{138.3}{463}{west}{\fp}{12.2\%}
\Tx{75}{502.7}{west}{\fs}{Molecularly}\Tx{75}{513}{west}{\fs}{unsolved}\Tx{75}{523.3}{west}{\fp}{64.5\%}
\TxW{153.3}{510}{west}{\ft}{(TTTG)\subthree/SNV}\TxW{153.3}{520.3}{west}{\fp}{13.9\%}
\Tx{177.7}{577}{west}{\fp}{\textit{N} = 989}
\Tx{366}{411.7}{west}{\fc}{\textit{TG}}\Tx{366}{422}{west}{\fp}{2.8\%}\Tx{391.7}{411.7}{west}{\fc}{\textit{TPO}}\Tx{391.7}{422}{west}{\fp}{1.4\%}
\Tx{405}{437}{west}{\fc}{\textit{SLC5A5}}\Tx{405}{447}{west}{\fp}{1.1\%}\Tx{436.3}{458}{west}{\fc}{\textit{TSHR}}\Tx{436.3}{468.3}{west}{\fp}{2.5\%}
\Tx{436.7}{484}{west}{\fc}{\textit{PAX8}}\Tx{436.7}{494.3}{west}{\fp}{3.2\%}\Tx{432}{509.3}{west}{\fc}{\textit{NKX2-1}}\Tx{432}{519.7}{west}{\fp}{0.4\%}
\Tx{343.3}{450}{west}{\fc}{\textit{DUOX2}}\Tx{343.3}{460}{west}{\fp}{11.0\%}
\Tx{282.7}{482}{west}{\fs}{Molecularly}\Tx{282.7}{492.3}{west}{\fs}{unsolved}\Tx{282.7}{502.7}{west}{\fp}{36.2\%}
\TxW{325}{540}{west}{\ft}{(TTTG)\subthree/SNV}\TxW{325}{550}{west}{\fp}{41.5\%}
\Tx{391.7}{577}{west}{\fp}{\textit{N} = 282}
\Tx{506.3}{416.7}{west}{\fc}{\textit{DUOX2}}\Tx{506.3}{427}{west}{\fp}{1.0\%}\Tx{558.3}{416.7}{west}{\fc}{\textit{PAX8}}\Tx{558.3}{427}{west}{\fp}{5.0\%}
\Tx{499.7}{460.7}{west}{\fs}{Molecularly}\Tx{499.7}{471}{west}{\fs}{unsolved}\Tx{499.7}{481}{west}{\fp}{19.0\%}
\TxW{523.7}{540}{west}{\ft}{(TTTG)\subthree/SNV}\TxW{523.7}{550}{west}{\fp}{75.0\%}
\Tx{595.7}{577}{west}{\fp}{\textit{N} = 100}
\end{axis}
\end{tikzpicture}
\end{document}
